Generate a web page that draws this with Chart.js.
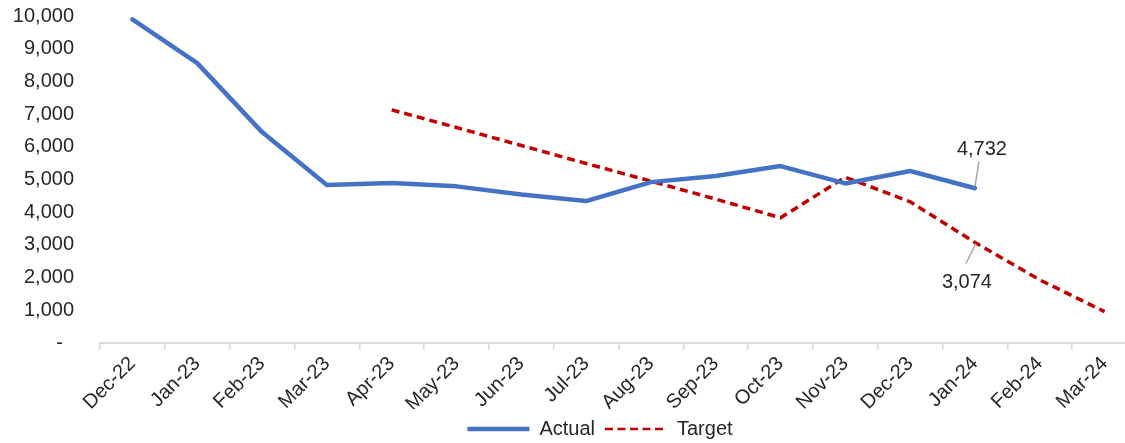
<!DOCTYPE html>
<html>
<head>
<meta charset="utf-8">
<script src="https://cdn.jsdelivr.net/npm/chart.js@4.4.1/dist/chart.umd.min.js"></script>
<style>
  html, body { margin: 0; padding: 0; overflow: hidden; background: #ffffff; }
  canvas { display: block; }
</style>
</head>
<body>
<canvas id="chart" width="1200" height="449"></canvas>
<script>
// Monthly categories
const months = ['Dec-22', 'Jan-23', 'Feb-23', 'Mar-23', 'Apr-23', 'May-23', 'Jun-23', 'Jul-23',
                'Aug-23', 'Sep-23', 'Oct-23', 'Nov-23', 'Dec-23', 'Jan-24', 'Feb-24', 'Mar-24'];

// Actual values (through Jan-24)
const actual = [9900, 8560, 6450, 4830, 4890, 4790, 4540, 4340, 4920, 5110, 5410, 4880, 5260, 4732, null, null];

// Target path (from Apr-23)
const target = [null, null, null, null, 7130, 6590, 6040, 5490, 4950, 4400, 3830, 5070, 4320, 3074, 1930, 960];

// Value axis
const yMin = 0;
const yMax = 10000;
const yStep = 1000;

// Values called out with a label
const callouts = [
  { series: 0, index: 13, dx: 7, dy: -39, lineFrom: [0, -2], lineTo: [4, -27] },
  { series: 1, index: 13, dx: -8, dy: 40, lineFrom: [1, 1], lineTo: [-9, 21] }
];

const FONT = "'Liberation Sans', Arial, sans-serif";
const TEXT = '#262626';
const BLUE = '#4472C4';
const RED = '#C00000';

const fmt = v => v.toLocaleString('en-US');

// Value labels with short leader lines
const calloutPlugin = {
  id: 'callouts',
  afterDatasetsDraw(chart) {
    const ctx = chart.ctx;
    ctx.save();
    callouts.forEach(c => {
      const el = chart.getDatasetMeta(c.series).data[c.index];
      const value = chart.data.datasets[c.series].data[c.index];
      const x = el.x, y = el.y;
      ctx.strokeStyle = '#a6a6a6';
      ctx.lineWidth = 1.5;
      ctx.beginPath();
      ctx.moveTo(x + c.lineFrom[0], y + c.lineFrom[1]);
      ctx.lineTo(x + c.lineTo[0], y + c.lineTo[1]);
      ctx.stroke();
      ctx.fillStyle = TEXT;
      ctx.font = '20px ' + FONT;
      ctx.textAlign = 'center';
      ctx.textBaseline = 'middle';
      ctx.fillText(fmt(value), x + c.dx, y + c.dy);
    });
    ctx.restore();
  }
};

new Chart(document.getElementById('chart'), {
  type: 'line',
  data: {
    labels: months,
    datasets: [
      {
        label: 'Actual',
        data: actual,
        borderColor: BLUE,
        backgroundColor: BLUE,
        borderWidth: 4.5,
        borderJoinStyle: 'round',
        borderCapStyle: 'round',
        pointRadius: 0,
        pointHoverRadius: 0,
        pointStyle: 'line',
        tension: 0,
        spanGaps: false
      },
      {
        label: 'Target',
        data: target,
        borderColor: RED,
        backgroundColor: RED,
        borderWidth: 3.5,
        borderDash: [8, 5],
        pointRadius: 0,
        pointHoverRadius: 0,
        pointStyle: 'line',
        tension: 0,
        spanGaps: false
      }
    ]
  },
  options: {
    responsive: false,
    animation: false,
    devicePixelRatio: 1,
    layout: { padding: { top: 16, left: 0, right: 0, bottom: 0 } },
    plugins: {
      tooltip: { enabled: false },
      legend: {
        position: 'bottom',
        labels: {
          usePointStyle: true,
          pointStyleWidth: 62,
          padding: 10,
          color: TEXT,
          font: { family: FONT, size: 20 },
          generateLabels(chart) {
            return chart.data.datasets.map((ds, i) => ({
              text: ds.label,
              fillStyle: ds.borderColor,
              strokeStyle: ds.borderColor,
              lineWidth: i === 0 ? 4.5 : 2.5,
              lineDash: i === 0 ? [] : [8, 4.5],
              lineCap: 'butt',
              pointStyle: 'line',
              fontColor: TEXT,
              datasetIndex: i,
              hidden: false
            }));
          }
        }
      }
    },
    scales: {
      x: {
        offset: true,
        grid: {
          offset: true,
          display: true,
          drawOnChartArea: false,
          drawTicks: true,
          tickLength: 7,
          color: '#d9d9d9',
          lineWidth: 1.5
        },
        border: { display: true, color: '#d9d9d9', width: 2 },
        ticks: {
          autoSkip: false,
          maxRotation: 45,
          minRotation: 45,
          padding: 2,
          color: TEXT,
          font: { family: FONT, size: 20 }
        },
        afterFit(scale) { scale.height = 66; scale.paddingTop = 0; scale.paddingBottom = 0; }
      },
      y: {
        min: yMin,
        max: yMax,
        grid: { display: false, drawTicks: false },
        border: { display: false },
        ticks: {
          stepSize: yStep,
          padding: 26,
          color: TEXT,
          font: { family: FONT, size: 20 },
          callback: v => (v === 0 ? '-  ' : fmt(v))
        },
        afterFit(scale) { scale.width = 100; scale.paddingTop = 0; scale.paddingBottom = 0; }
      },
      yRight: {
        type: 'linear',
        position: 'right',
        display: true,
        grid: { display: false, drawTicks: false },
        border: { display: false },
        ticks: { display: false },
        afterFit(scale) { scale.width = 63; scale.paddingTop = 0; scale.paddingBottom = 0; }
      }
    }
  },
  plugins: [calloutPlugin]
});
</script>
</body>
</html>
